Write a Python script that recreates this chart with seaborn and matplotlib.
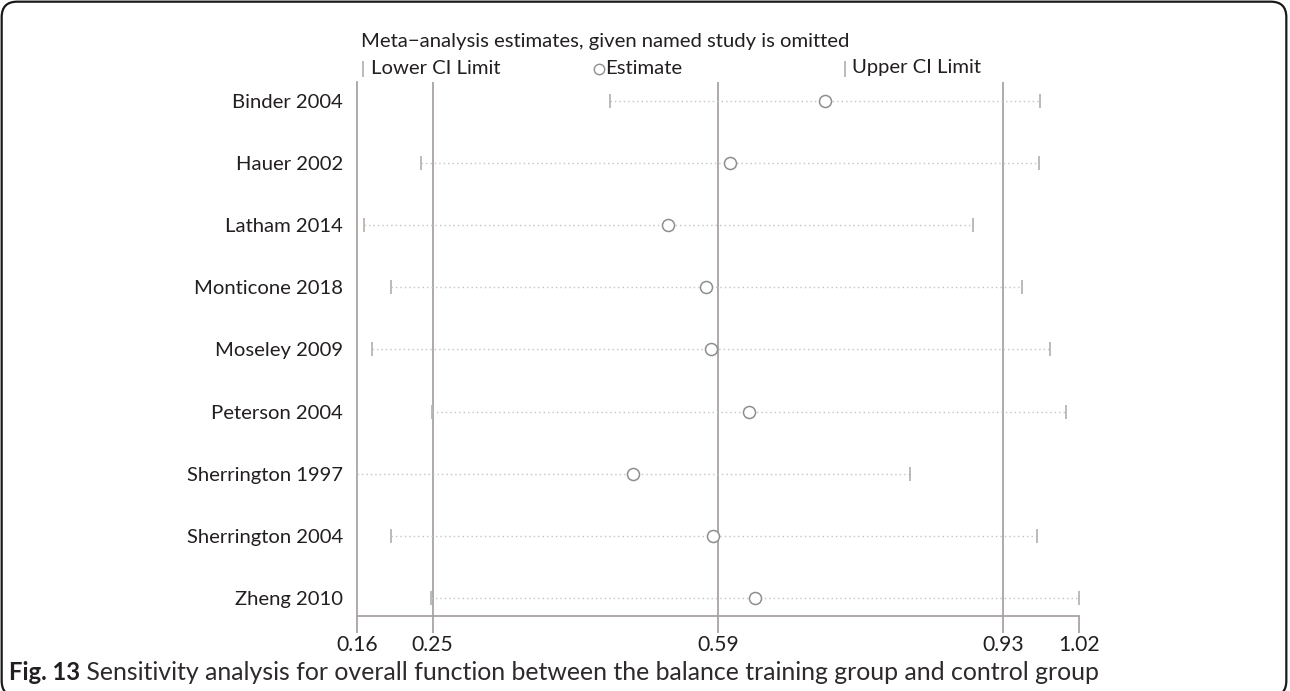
import matplotlib
matplotlib.use("Agg")
import matplotlib.pyplot as plt
from matplotlib.lines import Line2D
from matplotlib.patches import FancyBboxPatch
import seaborn as sns
import pandas as pd

# ---- data ----
studies = ["Binder 2004", "Hauer 2002", "Latham 2014", "Monticone 2018", "Moseley 2009",
           "Peterson 2004", "Sherrington 1997", "Sherrington 2004", "Zheng 2010"]
estimate = [0.717, 0.604, 0.531, 0.576, 0.582, 0.627, 0.489, 0.584, 0.634]
lower_ci = [0.461, 0.236, 0.168, 0.201, 0.178, 0.249, 0.160, 0.200, 0.248]
upper_ci = [0.974, 0.972, 0.894, 0.952, 0.986, 1.005, 0.819, 0.970, 1.020]
ref_lines = [0.25, 0.59, 0.93]
tick_values = [0.16, 0.25, 0.59, 0.93, 1.02]
tick_labels = ["0.16", "0.25", "0.59", "0.93", "1.02"]
title_text = "Meta\u2212analysis estimates, given named study is omitted"
legend_labels = ["Lower CI Limit", "Estimate", "Upper CI Limit"]
caption_bold = "Fig. 13"
caption_text = " Sensitivity analysis for overall function between the balance training group and control group"

df = pd.DataFrame({"study": studies, "est": estimate, "lo": lower_ci, "hi": upper_ci})

sns.set_theme(style="white")
plt.rcParams["font.family"] = ["Lato", "DejaVu Sans"]

W, H = 1290, 691
fig = plt.figure(figsize=(W / 100, H / 100), dpi=100)
ax = fig.add_axes([357 / W, (H - 616) / H, (1079 - 357) / W, (616 - 82) / H])

TXT = "#231f20"
GRID = "#a9a4a0"
TICKC = "#b8b4b2"
FS = 14.6

# reference vertical lines
for v in ref_lines:
    ax.axvline(v, color=GRID, lw=1.3, zorder=1)

ypos = list(range(len(studies)))
# dotted CI lines
ax.hlines(ypos, df["lo"], df["hi"], colors="#c4c4c4", linestyles=(0, (1, 2.2)), lw=1.0, zorder=2)

# CI limit ticks
sns.scatterplot(data=df, x="lo", y="study", marker="|", s=100, color=TICKC, linewidth=1.3, ax=ax, zorder=3, legend=False)
sns.scatterplot(data=df, x="hi", y="study", marker="|", s=100, color=TICKC, linewidth=1.3, ax=ax, zorder=3, legend=False)
# estimates
sns.scatterplot(data=df, x="est", y="study", marker="o", s=75, facecolor="white",
                edgecolor="#8e8e8e", linewidth=1.1, ax=ax, zorder=4, legend=False)

ax.set_xlim(0.16, 1.02)
ax.set_ylim(8 + 18 / 62.2, -18.7 / 62.2)
ax.set_xticks(tick_values)
ax.set_xticklabels(tick_labels)
ax.set_yticks(ypos)
ax.set_yticklabels(studies)
ax.set_xlabel("")
ax.set_ylabel("")

for s in ["top", "right"]:
    ax.spines[s].set_visible(False)
for s in ["left", "bottom"]:
    ax.spines[s].set_visible(True)
    ax.spines[s].set_color(GRID)
    ax.spines[s].set_linewidth(1.3)

ax.tick_params(axis="x", direction="out", length=12, width=1.3, color=GRID, pad=2,
               labelsize=FS + 0.6, labelcolor=TXT, bottom=True)
ax.tick_params(axis="y", length=0, pad=10, labelsize=FS, labelcolor=TXT, left=False)
ax.grid(False)

# title and legend row (figure coords in pixels)
def fx(px):
    return px / W

def fy(py):
    return 1 - py / H

fig.text(fx(361), fy(42), title_text, fontsize=FS, color=TXT, va="center", ha="left")
fig.add_artist(Line2D([fx(363)], [fy(69)], marker="|", markersize=12, color=TICKC, mew=1.3,
                      transform=fig.transFigure))
fig.text(fx(371), fy(68), legend_labels[0], fontsize=FS, color=TXT, va="center", ha="left")
fig.add_artist(Line2D([fx(599)], [fy(69)], marker="o", markersize=7.5, mfc="white", mec="#8e8e8e",
                      mew=1.0, transform=fig.transFigure))
fig.text(fx(605), fy(68), legend_labels[1], fontsize=FS, color=TXT, va="center", ha="left")
fig.add_artist(Line2D([fx(845)], [fy(69)], marker="|", markersize=12, color=TICKC, mew=1.3,
                      transform=fig.transFigure))
fig.text(fx(852), fy(68), legend_labels[2], fontsize=FS, color=TXT, va="center", ha="left")

# caption
t1 = fig.text(fx(9), fy(672), caption_bold, fontsize=17.2, fontweight="bold", color=TXT,
              va="center", ha="left")
fig.canvas.draw()
bb = t1.get_window_extent()
fig.text(bb.x1 / W, fy(672), caption_text, fontsize=17.9, color="#2e2a2b", va="center", ha="left",
         fontweight="normal")

# rounded frame
frame = FancyBboxPatch((fx(12), fy(686)), fx(1276) - fx(12), fy(12) - fy(686),
                       boxstyle="round,pad=0.008,rounding_size=0.012", transform=fig.transFigure,
                       fill=False, ec="#1a1a1a", lw=1.6, mutation_aspect=W / H)
fig.add_artist(frame)

fig.savefig("out.png", dpi=100)
